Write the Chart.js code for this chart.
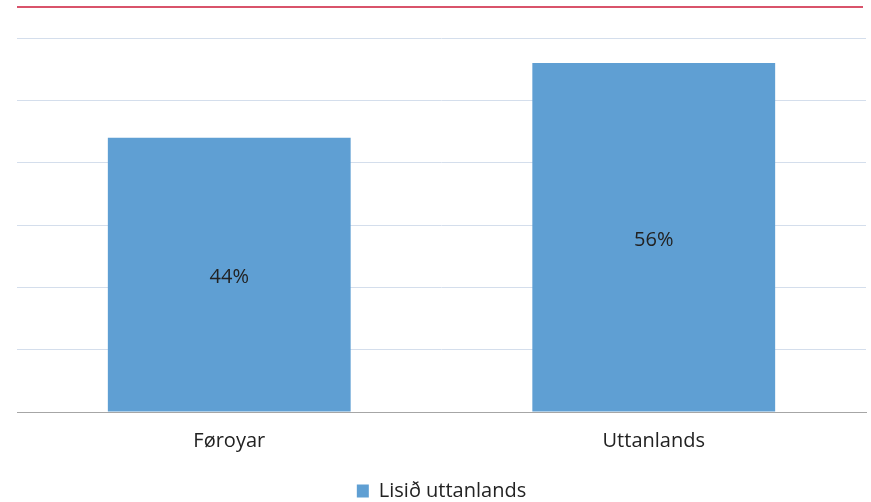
<!DOCTYPE html>
<html lang="fo">
<head>
  <meta charset="UTF-8" />
  <title>Lisið uttanlands</title>
  <style>
    html, body {
      margin: 0;
      padding: 0;
      background: #fff;
    }

    #wrap {
      position: relative;
      width: 871px;
      height: 502px;
      overflow: hidden;
    }

    #topline {
      position: absolute;
      left: 17px;
      top: 6px;
      width: 846px;
      height: 2px;
      background: #d9536b;
    }
  </style>
</head>
<body>
  <div id="wrap">
    <div id="topline"></div>
    <canvas id="chart" width="871" height="511"></canvas>
  </div>

  <script src="https://cdn.jsdelivr.net/npm/chart.js"></script>
  <script>
    // data
    const categories = ['Føroyar', 'Uttanlands'];
    const values = [44, 56];
    const seriesName = 'Lisið uttanlands';
    const yTicks = [0, 10, 20, 30, 40, 50, 60];

    const barColor = '#5f9fd3';
    const fontFamily = "'Open Sans', Lato, sans-serif";

    // writes the value in the middle of each bar
    const barLabels = {
      id: 'barLabels',
      afterDatasetsDraw(chart) {
        const ctx = chart.ctx;
        const meta = chart.getDatasetMeta(0);
        ctx.save();
        ctx.font = '20px ' + fontFamily;
        ctx.fillStyle = '#222';
        ctx.textAlign = 'center';
        ctx.textBaseline = 'middle';
        meta.data.forEach((bar, i) => {
          const midY = (bar.y + bar.base) / 2 + 3;
          ctx.fillText(values[i] + '%', bar.x, midY);
        });
        ctx.restore();
      }
    };

    new Chart(document.getElementById('chart'), {
      type: 'bar',
      data: {
        labels: categories,
        datasets: [{
          label: seriesName,
          data: values,
          backgroundColor: barColor,
          borderWidth: 0,
          categoryPercentage: 1,
          barPercentage: 0.572
        }]
      },
      options: {
        responsive: false,
        animation: false,
        layout: {
          padding: { left: 17, right: 5, top: 38, bottom: 0 }
        },
        scales: {
          x: {
            grid: { display: false },
            border: { color: '#a6a6a6', width: 1 },
            ticks: {
              color: '#222',
              font: { family: fontFamily, size: 20 },
              padding: 9
            },
            afterFit(axis) {
              axis.height = 67;
            }
          },
          y: {
            min: 0,
            max: 60,
            afterBuildTicks(axis) {
              axis.ticks = yTicks.map(v => ({ value: v }));
            },
            grid: { color: '#d4deec', lineWidth: 1, drawTicks: false },
            border: { display: false },
            ticks: { display: false }
          }
        },
        plugins: {
          tooltip: { enabled: false },
          legend: {
            position: 'bottom',
            labels: {
              color: '#222',
              font: { family: fontFamily, size: 20 },
              boxWidth: 12,
              boxHeight: 13,
              padding: 2
            }
          }
        }
      },
      plugins: [barLabels]
    });
  </script>
</body>
</html>
